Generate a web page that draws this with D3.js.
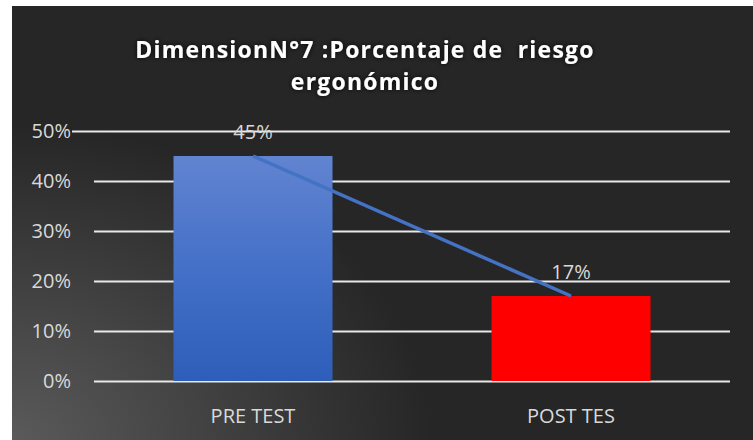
<!DOCTYPE html>
<html lang="es">
<head>
<meta charset="UTF-8">
<title>Dimension N°7</title>
<style>
  html, body { margin: 0; padding: 0; background: #fff; }
  svg { display: block; }
</style>
</head>
<body>
<div id="chart"></div>
<script src="https://d3js.org/d3.v7.min.js"></script>
<script>
var categories = ['PRE TEST', 'POST TES'];
var values = [45, 17];
var yTicks = [0, 10, 20, 30, 40, 50];
var titleLines = ['DimensionN°7 :Porcentaje de  riesgo', 'ergonómico'];

var width = 753, height = 440;
var margin = { left: 94, right: 23, top: 131, bottom: 59 };

var svg = d3.select('#chart').append('svg')
    .attr('width', width)
    .attr('height', height);

var defs = svg.append('defs');

var bg = defs.append('radialGradient')
    .attr('id', 'bg')
    .attr('gradientUnits', 'userSpaceOnUse')
    .attr('cx', 12).attr('cy', 440)
    .attr('r', 420)
    .attr('gradientTransform', 'translate(12,440) scale(1,0.75) translate(-12,-440)');
bg.append('stop').attr('offset', '0%').attr('stop-color', '#5a5a5a');
bg.append('stop').attr('offset', '100%').attr('stop-color', '#262626');

var barGrad = defs.append('linearGradient')
    .attr('id', 'blue')
    .attr('x1', 0).attr('y1', 0).attr('x2', 0).attr('y2', 1);
barGrad.append('stop').attr('offset', '0%').attr('stop-color', '#6184d0');
barGrad.append('stop').attr('offset', '50%').attr('stop-color', '#4470c8');
barGrad.append('stop').attr('offset', '100%').attr('stop-color', '#2d5eb9');

var glow = defs.append('filter').attr('id', 'glow')
    .attr('x', '-10%').attr('y', '-30%').attr('width', '120%').attr('height', '160%');
glow.append('feDropShadow')
    .attr('dx', 0).attr('dy', 0)
    .attr('stdDeviation', 2.5)
    .attr('flood-color', '#000')
    .attr('flood-opacity', 0.9);

// chart area background (white strip on the top and left like the screenshot)
svg.append('rect')
    .attr('x', 12).attr('y', 6)
    .attr('width', width - 12).attr('height', height - 6)
    .attr('fill', 'url(#bg)');

var x = d3.scaleBand()
    .domain(categories)
    .range([margin.left, width - margin.right])
    .paddingInner(0.5)
    .paddingOuter(0.25);

var y = d3.scaleLinear()
    .domain([0, 50])
    .range([height - margin.bottom, margin.top]);

var font = '"Open Sans", sans-serif';

// gridlines
svg.append('g').selectAll('line')
    .data(yTicks)
    .enter().append('line')
    .attr('x1', function(d) { return d === 50 ? 72 : margin.left; })
    .attr('x2', width - margin.right)
    .attr('y1', function(d) { return y(d) + 0.5; })
    .attr('y2', function(d) { return y(d) + 0.5; })
    .attr('stroke', '#e8e8e8')
    .attr('stroke-width', 2);

// y labels
svg.append('g').selectAll('text')
    .data(yTicks)
    .enter().append('text')
    .attr('x', 71)
    .attr('y', function(d) { return y(d) + 7; })
    .attr('text-anchor', 'end')
    .attr('fill', '#d9d9d9')
    .style('font-family', font)
    .style('font-size', '20px')
    .text(function(d) { return d + '%'; });

// bars
svg.append('g').selectAll('rect')
    .data(values)
    .enter().append('rect')
    .attr('x', function(d, i) { return x(categories[i]); })
    .attr('y', function(d) { return y(d); })
    .attr('width', x.bandwidth())
    .attr('height', function(d) { return y(0) - y(d); })
    .attr('fill', function(d, i) { return i === 0 ? 'url(#blue)' : '#ff0000'; });

// trend line
var line = d3.line()
    .x(function(d, i) { return x(categories[i]) + x.bandwidth() / 2; })
    .y(function(d) { return y(d); });

svg.append('path')
    .datum(values)
    .attr('d', line)
    .attr('fill', 'none')
    .attr('stroke', '#4472c4')
    .attr('stroke-width', 3.5);

// data labels
svg.append('g').selectAll('text')
    .data(values)
    .enter().append('text')
    .attr('x', function(d, i) { return x(categories[i]) + x.bandwidth() / 2; })
    .attr('y', function(d) { return y(d) - 17; })
    .attr('text-anchor', 'middle')
    .attr('fill', '#d9d9d9')
    .style('font-family', font)
    .style('font-size', '20px')
    .text(function(d) { return d + '%'; });

// category labels
svg.append('g').selectAll('text')
    .data(categories)
    .enter().append('text')
    .attr('x', function(d) { return x(d) + x.bandwidth() / 2; })
    .attr('y', 423)
    .attr('text-anchor', 'middle')
    .attr('fill', '#d9d9d9')
    .style('font-family', font)
    .style('font-size', '20px')
    .text(function(d) { return d; });

// title
svg.append('g').selectAll('text')
    .data(titleLines)
    .enter().append('text')
    .attr('x', 365)
    .attr('y', function(d, i) { return 58 + i * 32; })
    .attr('text-anchor', 'middle')
    .attr('fill', '#ffffff')
    .attr('filter', 'url(#glow)')
    .style('font-family', font)
    .style('font-weight', 'bold')
    .style('font-size', '23px')
    .style('letter-spacing', '1.2px')
    .style('white-space', 'pre')
    .text(function(d) { return d; });
</script>
</body>
</html>
